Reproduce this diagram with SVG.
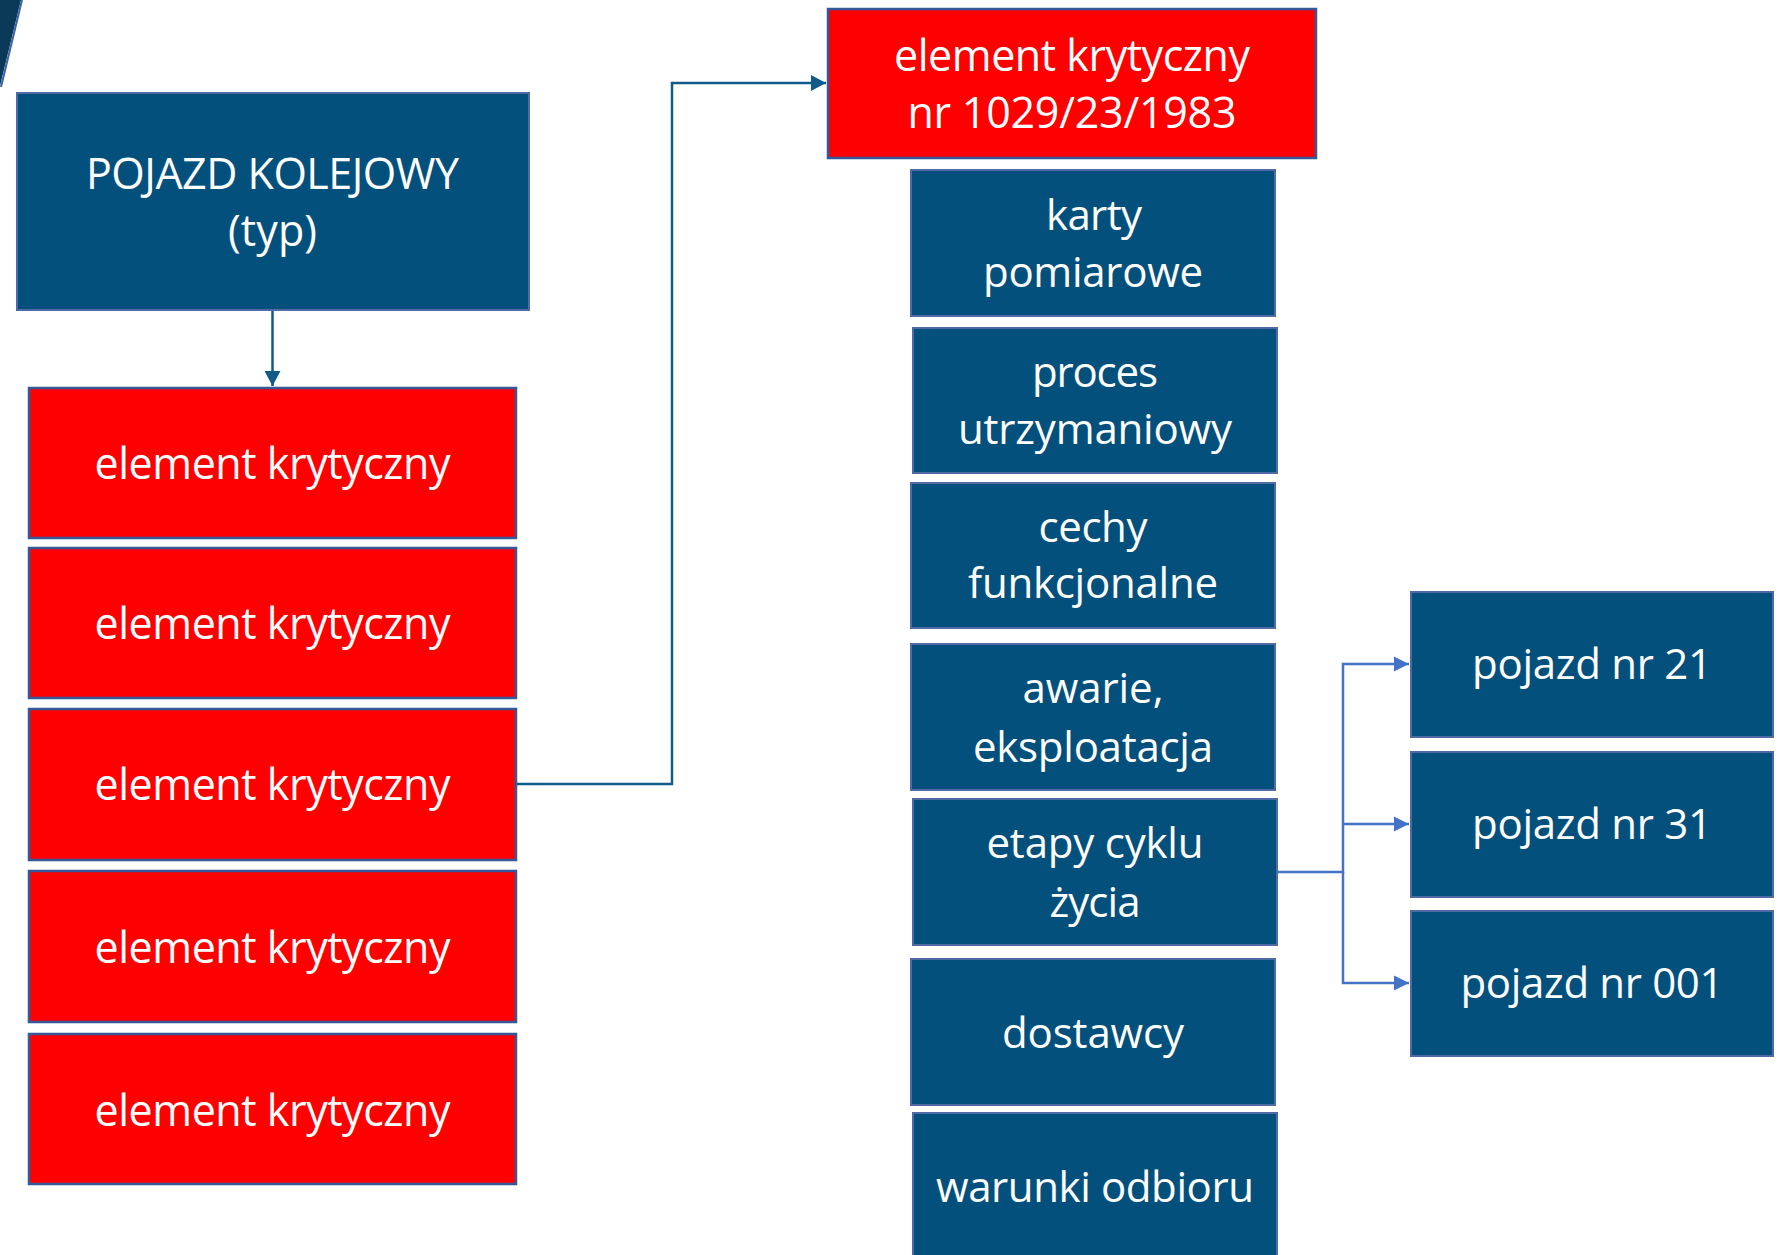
<svg xmlns="http://www.w3.org/2000/svg" width="1788" height="1255" viewBox="0 0 1788 1255">
  <style>
    .red { fill: #FF0000; stroke: #34589A; stroke-width: 2.5; }
    .blue { fill: #03507D; stroke: #4F6AA4; stroke-width: 2; }
    .t { font-family: "Open Sans", "Noto Sans", "Liberation Sans", sans-serif; fill: #FFFFFF; text-anchor: middle; }
    .s42 { font-size: 42px; }
    .s43 { font-size: 43px; }
    .c1 { fill: none; stroke: #105B8A; stroke-width: 2.5; }
    .c2 { fill: none; stroke: #4472C4; stroke-width: 2.5; }
  </style>
  <defs>
    <marker id="a1" markerUnits="userSpaceOnUse" markerWidth="16" markerHeight="16" refX="15" refY="8" orient="auto">
      <path d="M0,0 L15,8 L0,16 Z" fill="#105B8A"/>
    </marker>
    <marker id="a2" markerUnits="userSpaceOnUse" markerWidth="16" markerHeight="16" refX="15" refY="8" orient="auto">
      <path d="M0,0.5 L15,8 L0,15.5 Z" fill="#4472C4"/>
    </marker>
  </defs>
  <rect width="1788" height="1255" fill="#FFFFFF"/>

  <g id="corner">
    <polygon points="0,0 21,0 0,86" fill="#0A3A57"/>
    <line x1="22" y1="0" x2="1" y2="87" stroke="#3B64A8" stroke-width="2"/>
  </g>

  <g id="connectors">
    <path class="c1" d="M272.5,311 V386" marker-end="url(#a1)"/>
    <path class="c1" d="M516,784 H672 V83 H826" marker-end="url(#a1)"/>
    <path class="c2" d="M1278,872 H1343 V664 H1409" marker-end="url(#a2)"/>
    <path class="c2" d="M1343,824 H1409" marker-end="url(#a2)"/>
    <path class="c2" d="M1343,872 V983 H1409" marker-end="url(#a2)"/>
  </g>

  <g id="pojazd-kolejowy">
    <rect class="blue" x="17" y="93" width="512" height="217"/>
    <text class="t s43" x="272.5" y="189" textLength="373">POJAZD KOLEJOWY</text>
    <text class="t s43" x="272.5" y="246" textLength="89">(typ)</text>
  </g>

  <g id="element-1">
    <rect class="red" x="29" y="388" width="487" height="150"/>
    <text class="t s43" x="272.5" y="479" textLength="356">element krytyczny</text>
  </g>
  <g id="element-2">
    <rect class="red" x="29" y="548" width="487" height="150"/>
    <text class="t s43" x="272.5" y="639" textLength="356">element krytyczny</text>
  </g>
  <g id="element-3">
    <rect class="red" x="29" y="709" width="487" height="151"/>
    <text class="t s43" x="272.5" y="800" textLength="356">element krytyczny</text>
  </g>
  <g id="element-4">
    <rect class="red" x="29" y="871" width="487" height="151"/>
    <text class="t s43" x="272.5" y="963" textLength="356">element krytyczny</text>
  </g>
  <g id="element-5">
    <rect class="red" x="29" y="1034" width="487" height="150"/>
    <text class="t s43" x="272.5" y="1126" textLength="356">element krytyczny</text>
  </g>

  <g id="element-nr">
    <rect class="red" x="828" y="9" width="488" height="149"/>
    <text class="t s43" x="1072" y="71" textLength="356">element krytyczny</text>
    <text class="t s43" x="1072" y="128" textLength="329">nr 1029/23/1983</text>
  </g>

  <g id="karty">
    <rect class="blue" x="911" y="170" width="364" height="146"/>
    <text class="t s42" x="1094" y="230" textLength="96">karty</text>
    <text class="t s42" x="1093" y="287" textLength="220">pomiarowe</text>
  </g>
  <g id="proces">
    <rect class="blue" x="913" y="328" width="364" height="145"/>
    <text class="t s42" x="1095" y="387" textLength="126">proces</text>
    <text class="t s42" x="1095" y="444" textLength="274">utrzymaniowy</text>
  </g>
  <g id="cechy">
    <rect class="blue" x="911" y="483" width="364" height="145"/>
    <text class="t s42" x="1093" y="542" textLength="109">cechy</text>
    <text class="t s42" x="1093" y="598" textLength="250">funkcjonalne</text>
  </g>
  <g id="awarie">
    <rect class="blue" x="911" y="644" width="364" height="146"/>
    <text class="t s42" x="1093" y="703" textLength="141">awarie,</text>
    <text class="t s42" x="1093" y="762" textLength="240">eksploatacja</text>
  </g>
  <g id="etapy">
    <rect class="blue" x="913" y="799" width="364" height="146"/>
    <text class="t s42" x="1095" y="858" textLength="217">etapy cyklu</text>
    <text class="t s42" x="1095" y="917" textLength="91">życia</text>
  </g>
  <g id="dostawcy">
    <rect class="blue" x="911" y="959" width="364" height="146"/>
    <text class="t s42" x="1093" y="1048" textLength="182">dostawcy</text>
  </g>
  <g id="warunki">
    <rect class="blue" x="913" y="1113" width="364" height="150"/>
    <text class="t s42" x="1095" y="1202" textLength="318">warunki odbioru</text>
  </g>

  <g id="pojazd-21">
    <rect class="blue" x="1411" y="592" width="362" height="145"/>
    <text class="t s42" x="1592" y="679" textLength="240">pojazd nr 21</text>
  </g>
  <g id="pojazd-31">
    <rect class="blue" x="1411" y="752" width="362" height="145"/>
    <text class="t s42" x="1592" y="839" textLength="240">pojazd nr 31</text>
  </g>
  <g id="pojazd-001">
    <rect class="blue" x="1411" y="911" width="362" height="145"/>
    <text class="t s42" x="1592" y="998" textLength="263">pojazd nr 001</text>
  </g>
</svg>
